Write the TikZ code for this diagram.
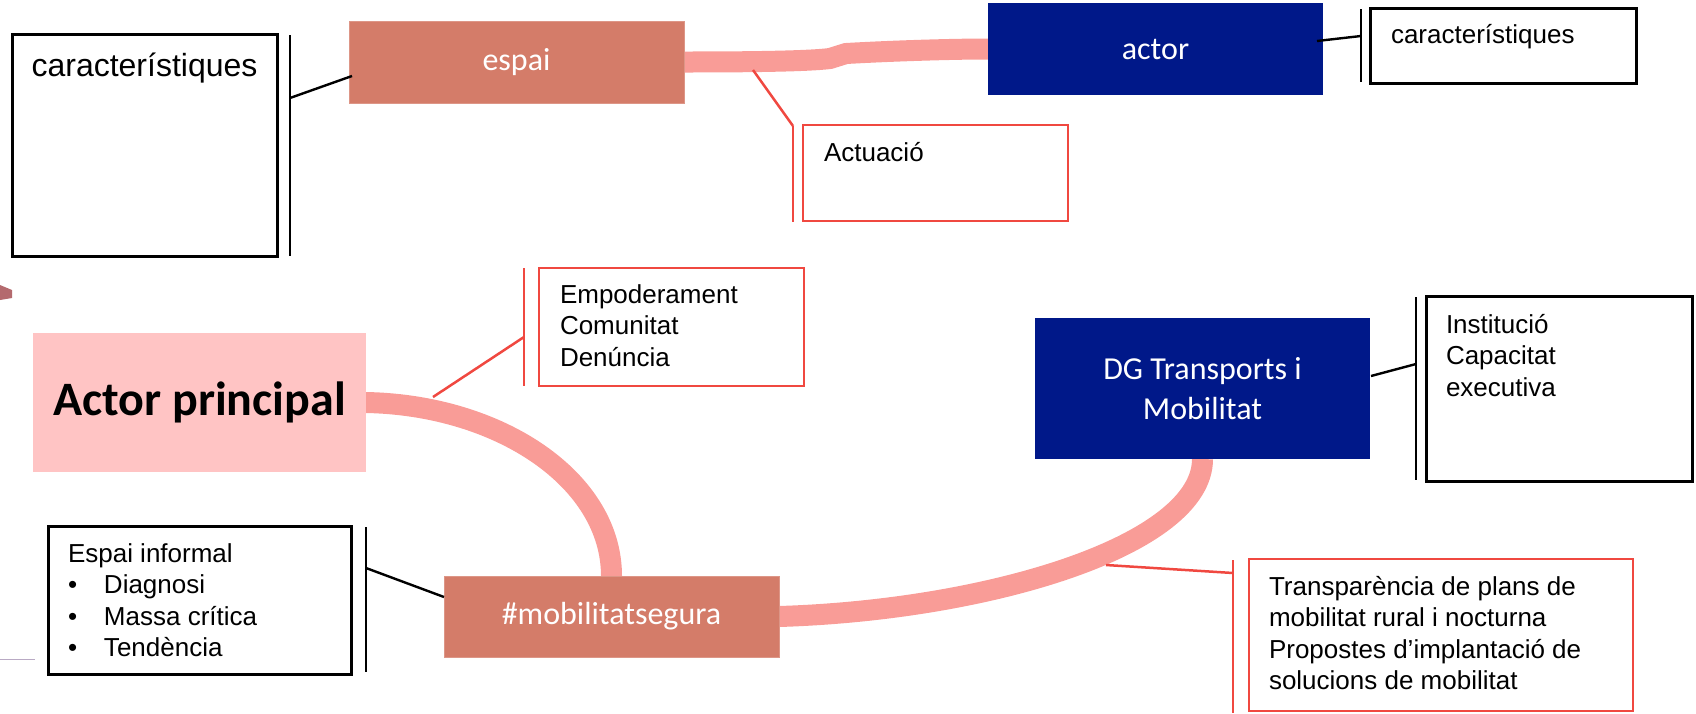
\documentclass[tikz,border=0pt]{standalone}
\usepackage{fontspec}
\setmainfont{Liberation Sans}
\newfontfamily\calfont{Carlito}
\usetikzlibrary{backgrounds}
\definecolor{linkpink}{RGB}{249,156,151}
\definecolor{salmon}{RGB}{212,124,105}
\definecolor{navyblue}{RGB}{0,24,137}
\definecolor{lightpink}{RGB}{255,196,196}
\definecolor{redline}{RGB}{240,72,64}
\definecolor{chev}{RGB}{180,106,110}
\definecolor{graylil}{RGB}{185,170,196}
\begin{document}
\begin{tikzpicture}[x=1pt,y=-1pt,
  every node/.style={inner sep=0pt, outer sep=0pt},
  blackbox/.style={draw=black, line width=3pt, fill=white, anchor=north west},
  redbox/.style={draw=redline, line width=2.6pt, fill=white, anchor=north west},
  salmonbox/.style={fill=salmon, draw=salmon!80!white, line width=1pt, text=white, anchor=north west, font=\calfont\fontsize{32}{40}\selectfont},
  navybox/.style={fill=navyblue, text=white, anchor=north west, align=center, font=\calfont\fontsize{32}{40}\selectfont},
  bartick/.style={line width=2.8pt, draw=black},
  redtick/.style={line width=2.5pt, draw=redline},
  link/.style={line width=21pt, draw=linkpink},
  bodytext/.style={font=\fontsize{26}{31.5}\selectfont, anchor=base west},
]
\useasboundingbox (0,0) rectangle (1696,713);

% ---------- boxes ----------
\node[blackbox, minimum width=265, minimum height=222] (charL) at (12,34) {};
\node[anchor=base, font=\fontsize{32}{38}\selectfont] (charLt) at (144.5,76) {característiques};

\node[salmonbox, minimum width=335, minimum height=82] (espai) at (349,21) {espai};
\node[navybox, minimum width=335, minimum height=92] (actor) at (988,3) {actor};

\node[blackbox, minimum width=266, minimum height=75] (charR) at (1370,8) {};
\node[bodytext] (charRt) at (1391,43) {característiques};

\node[redbox, minimum width=265, minimum height=96] (actua) at (803,125) {};
\node[bodytext] (actuat) at (824,161) {Actuació};

\node[redbox, minimum width=265, minimum height=118] (empod) at (539,268) {};
\node[bodytext] (empodt) at (560,303) {\begin{tabular}[t]{@{}l@{}}Empoderament\\Comunitat\\Denúncia\end{tabular}};

\node[fill=lightpink, anchor=north west, minimum width=333, minimum height=139,
      font=\calfont\bfseries\fontsize{48}{56}\selectfont] (actorP) at (33,333) {Actor principal};

\node[navybox, minimum width=335, minimum height=141] (dg) at (1035,318) {DG Transports i\\Mobilitat};

\node[blackbox, minimum width=266, minimum height=185] (inst) at (1426,296) {};
\node[bodytext] (instt) at (1446,333) {\begin{tabular}[t]{@{}l@{}}Institució\\Capacitat\\executiva\end{tabular}};

\node[blackbox, minimum width=303, minimum height=148] (espinf) at (48,526) {};
\node[bodytext] (espinft) at (68,562) {\begin{tabular}[t]{@{}l@{}}Espai informal\\
  \makebox[36pt][l]{\textbullet}Diagnosi\\
  \makebox[36pt][l]{\textbullet}Massa crítica\\
  \makebox[36pt][l]{\textbullet}Tendència\end{tabular}};

\node[salmonbox, minimum width=335, minimum height=81] (mobil) at (444,576) {\#mobilitatsegura};

\node[redbox, minimum width=384, minimum height=152] (transp) at (1249,559) {};
\node[bodytext] (transpt) at (1269,595) {\begin{tabular}[t]{@{}l@{}}Transparència de plans de\\mobilitat rural i nocturna\\Propostes d’implantació de\\solucions de mobilitat\end{tabular}};

% ---------- thick links ----------
\begin{scope}[on background layer]
  \draw[link] (espai.east) .. controls (760,62) and (810,61) .. (830,58.5)
        -- (846,53.5) .. controls (890,51) and (950,49) .. (actor.west);
  \draw[link] (actorP.east) .. controls (500,405) and (611.5,480) .. (mobil.north);
  \draw[link] (mobil.east) .. controls (990,610) and (1202.5,545) .. (dg.south);
\end{scope}

% ---------- brackets and leader lines ----------
\coordinate (bL1) at (290,35);   \coordinate (bL2) at (290,256);
\coordinate (bLa) at (290,98);   \coordinate (espaiIn) at (352,76);
\draw[bartick] (bL1) -- (bL2);
\draw[bartick, line width=2.4pt] (bLa) -- (espaiIn);

\coordinate (bR1) at (1361,9);   \coordinate (bR2) at (1361,82);
\coordinate (bRa) at (1361,36);  \coordinate (actorOut) at (1317,41);
\draw[bartick] (bR1) -- (bR2);
\draw[bartick, line width=2.4pt] (actorOut) -- (bRa);

\coordinate (rA1) at (793,126);  \coordinate (rA2) at (793,222);
\coordinate (linkA) at (753,70);
\draw[redtick] (rA1) -- (rA2);
\draw[redtick] (linkA) -- (rA1);

\coordinate (rE1) at (524,268);  \coordinate (rE2) at (524,386);
\coordinate (rEa) at (524,337);  \coordinate (linkE) at (433,397);
\draw[redtick] (rE1) -- (rE2);
\draw[redtick] (linkE) -- (rEa);

\coordinate (bI1) at (1416,297); \coordinate (bI2) at (1416,480);
\coordinate (bIa) at (1416,364); \coordinate (dgOut) at (1371,376);
\draw[bartick] (bI1) -- (bI2);
\draw[bartick, line width=2.4pt] (dgOut) -- (bIa);

\coordinate (bS1) at (366,527);  \coordinate (bS2) at (366,672);
\coordinate (bSa) at (366,568);  \coordinate (mobilIn) at (444,597);
\draw[bartick] (bS1) -- (bS2);
\draw[bartick, line width=2.4pt] (bSa) -- (mobilIn);

\coordinate (rT1) at (1233,560); \coordinate (rT2) at (1233,713);
\coordinate (rTa) at (1233,573); \coordinate (linkT) at (1106,565);
\draw[redtick] (rT1) -- (rT2);
\draw[redtick] (linkT) -- (rTa);

% ---------- stray marks at the left edge ----------
\fill[chev] (0,285) -- (12,290) -- (12,298) -- (0,300) -- cycle;
\draw[graylil, line width=1pt] (0,659) -- (35,659);
\end{tikzpicture}
\end{document}
